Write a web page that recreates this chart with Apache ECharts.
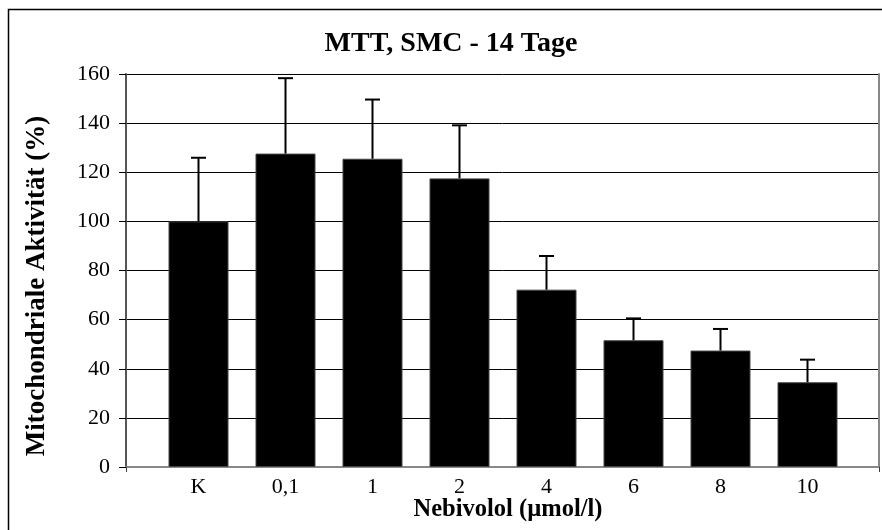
<!DOCTYPE html>
<html>
<head>
<meta charset="utf-8">
<script src="https://cdn.jsdelivr.net/npm/echarts@6/dist/echarts.min.js"></script>
<style>
  html, body { margin: 0; padding: 0; background: #fff; }
  #chart { width: 882px; height: 530px; }
</style>
</head>
<body>
<div id="chart"></div>
<script>
// Daten
const categories = ['K', '0,1', '1', '2', '4', '6', '8', '10'];
const means = [100, 127.6, 125.5, 117.5, 72.2, 51.6, 47.4, 34.5];
const errors = [25.9, 30.7, 24.1, 21.6, 13.7, 8.9, 8.8, 9.2];
const yTicks = { min: 0, max: 160, interval: 20 };

const serif = 'Liberation Serif';
const chart = echarts.init(document.getElementById('chart'));

const option = {
  animation: false,
  backgroundColor: '#fff',
  title: {
    text: 'MTT, SMC - 14 Tage',
    left: 446,
    top: 25,
    textAlign: 'center',
    textStyle: { fontFamily: serif, fontWeight: 'bold', fontSize: 28, color: '#000' },
  },
  graphic: [
    // äußerer Rahmen
    {
      type: 'rect',
      shape: { x: 8.5, y: 9.5, width: 1000, height: 1000 },
      style: { fill: null, stroke: '#000', lineWidth: 1.5 },
      silent: true,
    },
    {
      type: 'text',
      x: 37,
      y: 286,
      rotation: Math.PI / 2,
      style: {
        text: 'Mitochondriale Aktivität (%)',
        font: 'bold 27px "Liberation Serif"',
        fill: '#000',
        align: 'center',
        verticalAlign: 'middle',
      },
    },
    {
      type: 'text',
      x: 508,
      y: 510,
      style: {
        text: 'Nebivolol (µmol/l)',
        font: 'bold 24.5px "Liberation Serif"',
        fill: '#000',
        align: 'center',
        verticalAlign: 'middle',
      },
    },
  ],
  grid: [
    // Hintergrund: Gitterlinien, y-Achse
    { left: 126, right: 3, top: 74, bottom: 63 },
    // Balken
    { left: 155, right: 31, top: 74, bottom: 63 },
  ],
  xAxis: [
    {
      gridIndex: 0,
      type: 'category',
      data: [''],
      boundaryGap: true,
      axisLine: { show: true, lineStyle: { color: '#404040', width: 2 } },
      axisTick: { show: true, length: 5, lineStyle: { color: '#404040', width: 1 } },
      axisLabel: { show: false },
      splitLine: { show: false },
    },
    {
      gridIndex: 0,
      type: 'category',
      data: [''],
      position: 'top',
      axisLine: { show: true, lineStyle: { color: '#888', width: 2 } },
      axisTick: { show: false },
      axisLabel: { show: false },
    },
    {
      gridIndex: 1,
      type: 'category',
      data: categories,
      boundaryGap: true,
      axisLine: { show: false },
      axisTick: { show: false },
      axisLabel: { fontFamily: serif, fontSize: 22, color: '#000', margin: 9 },
    },
  ],
  yAxis: [
    {
      gridIndex: 0,
      type: 'value',
      min: yTicks.min,
      max: yTicks.max,
      interval: yTicks.interval,
      axisLine: { show: true, lineStyle: { color: '#555', width: 2 } },
      axisTick: { show: true, length: 7, lineStyle: { color: '#000', width: 1 } },
      axisLabel: { fontFamily: serif, fontSize: 22, color: '#000', margin: 16 },
      splitLine: { show: true, lineStyle: { color: '#000', width: 1 } },
    },
    {
      gridIndex: 0,
      type: 'value',
      position: 'right',
      min: yTicks.min,
      max: yTicks.max,
      interval: yTicks.interval,
      axisLine: { show: true, lineStyle: { color: '#888', width: 2 } },
      axisTick: { show: false },
      axisLabel: { show: false },
      splitLine: { show: false },
    },
    {
      gridIndex: 1,
      type: 'value',
      min: yTicks.min,
      max: yTicks.max,
      interval: yTicks.interval,
      show: false,
    },
  ],
  series: [
    {
      type: 'bar',
      xAxisIndex: 2,
      yAxisIndex: 2,
      data: means,
      barWidth: 60,
      itemStyle: { color: '#000', borderColor: '#444', borderWidth: 1 },
    },
    {
      // Fehlerbalken (nur nach oben)
      type: 'custom',
      xAxisIndex: 2,
      yAxisIndex: 2,
      data: means.map((m, i) => [i, m, m + errors[i]]),
      renderItem: (params, api) => {
        const base = api.coord([api.value(0), api.value(1)]);
        const top = api.coord([api.value(0), api.value(2)]);
        const half = 7.5;
        const style = { stroke: '#000', lineWidth: 2 };
        return {
          type: 'group',
          children: [
            { type: 'line', shape: { x1: base[0], y1: base[1], x2: top[0], y2: top[1] }, style },
            { type: 'line', shape: { x1: top[0] - half, y1: top[1], x2: top[0] + half, y2: top[1] }, style },
          ],
        };
      },
      z: 3,
    },
  ],
};

chart.setOption(option);
</script>
</body>
</html>
